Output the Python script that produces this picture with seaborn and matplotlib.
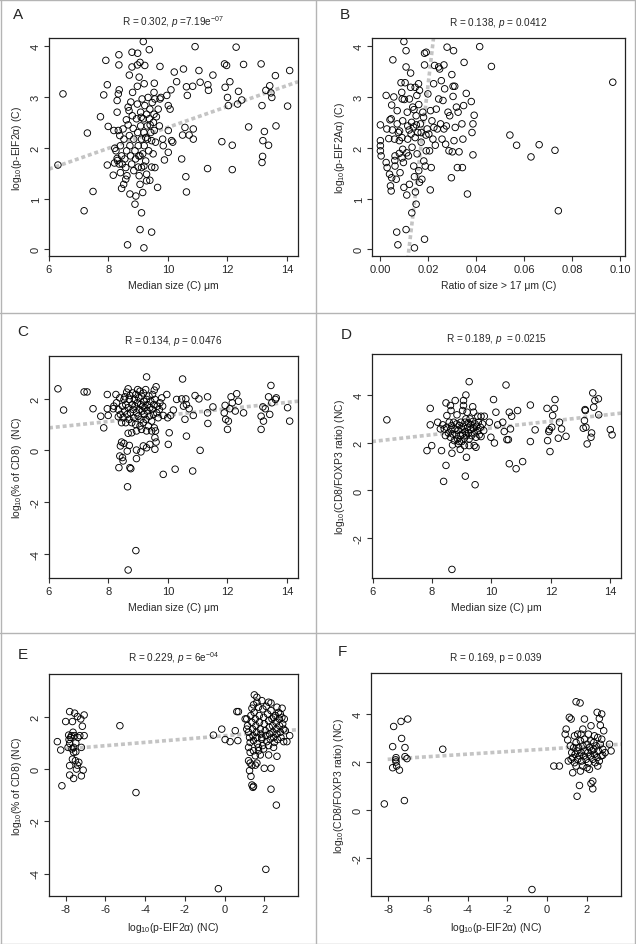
import numpy as np
import matplotlib
matplotlib.use('Agg')
import matplotlib.pyplot as plt
from matplotlib.lines import Line2D
import seaborn as sns

# ---- data (x, y) ----
A_pts = [(6.30,1.66),(6.47,3.06),(7.18,0.76),(7.29,2.29),(7.48,1.14),(7.73,2.61),(7.84,3.04),(7.91,3.72),(7.96,3.24),(7.96,1.66),
         (7.99,2.42),(8.16,1.46),(8.29,2.93),(8.29,2.70),(8.33,3.06),(8.35,3.83),(8.35,3.63),(8.36,3.14),(8.44,1.20),(8.58,1.38),
         (8.64,0.09),(8.70,3.43),(8.72,1.09),(8.79,3.88),(8.79,3.59),(8.89,0.89),(8.92,1.05),(8.98,3.86),(8.97,3.63),(9.06,3.68),
         (9.11,0.72),(9.06,0.39),(9.19,0.03),(9.17,4.09),(9.22,3.62),(9.37,3.93),(9.45,0.34),(9.39,1.36),(9.54,3.27),(9.56,1.61),
         (9.65,1.22),(9.73,3.60),(9.76,2.99),(9.82,2.17),(9.84,2.04),(9.88,1.76),(10.01,1.91),(10.07,2.76),(10.10,3.14),(10.16,2.11),
         (10.21,3.49),(10.29,3.30),(10.46,1.78),(10.49,2.25),(10.52,3.55),(10.57,2.40),(10.60,1.43),(10.62,1.13),(10.62,3.20),(10.65,3.03),
         (10.71,2.25),(10.83,3.21),(10.85,2.37),(10.85,2.17),(10.91,3.99),(11.04,3.52),(11.08,3.29),(11.33,1.59),(11.34,3.24),(11.36,3.13),
         (11.51,3.43),(11.81,2.12),(11.90,3.65),(11.92,3.19),(11.97,3.62),(12.00,2.99),(12.03,2.83),(12.08,3.30),(12.16,2.05),(12.16,1.57),
         (12.29,3.98),(12.34,2.86),(12.37,3.11),(12.48,2.94),(12.54,3.64),(12.71,2.41),(13.13,3.65),(13.16,2.83),(13.16,1.71),(13.18,1.83),
         (13.19,2.14),(13.24,2.32),(13.29,3.13),(13.38,2.05),(13.42,3.22),(13.46,3.08),(13.49,2.99),(13.61,3.42),(13.63,2.43),(14.02,2.82),
         (14.09,3.52),
         (8.18,2.34),(8.21,1.99),(8.25,1.94),(8.29,1.79),(8.33,2.34),(8.38,2.24),(8.40,2.04),(8.44,1.84),(8.46,1.68),(8.49,2.37),
         (8.52,2.17),(8.55,1.78),(8.58,1.61),(8.61,1.94),(8.66,2.80),(8.69,2.73),(8.66,2.45),(8.70,2.24),(8.72,2.04),(8.74,1.84),
         (8.78,1.68),(8.80,2.63),(8.81,3.09),(8.83,2.38),(8.85,2.17),(8.89,1.94),(8.91,1.78),(8.94,2.57),(8.97,2.86),(8.98,2.30),
         (9.00,2.04),(9.02,1.84),(9.03,1.45),(9.06,1.28),(9.08,2.70),(9.08,2.43),(9.11,2.17),(9.11,1.61),(9.13,2.96),(9.15,1.88),
         (9.17,2.57),(9.19,2.30),(9.20,2.04),(9.22,2.83),(9.25,1.74),(9.28,2.66),(9.28,1.35),(9.30,2.43),(9.31,2.17),(9.33,2.99),
         (9.35,1.94),(9.37,2.57),(9.39,2.76),(9.42,2.30),(9.45,2.14),(9.47,2.89),(9.51,2.50),(9.53,2.66),(9.54,2.34),(9.56,2.96),
         (9.58,2.11),(9.61,2.61),(9.67,2.76),(9.71,2.43),(9.73,2.96),(8.97,3.21),(9.20,3.26),(9.03,3.39),(8.36,1.68),(8.40,1.51),
         (8.51,1.28),(9.19,1.64),(9.06,1.84),(9.28,1.48),(9.96,3.03),(10.01,2.83),(10.01,2.34),(10.12,2.14),(9.53,3.09),(9.15,1.12),
         (8.62,1.45),(8.85,1.55),(9.00,1.62),(9.45,1.62),(9.50,1.88),(9.40,2.45),(8.60,2.55),(8.75,2.90),(9.10,2.60),(9.25,2.20),
         (8.20,1.70),(8.30,1.75)]

B_pts = [(0.0000,2.45),(0.0000,2.14),(0.0000,2.04),(0.0000,1.94),(0.0003,1.84),(0.0024,3.03),(0.0027,2.37),(0.0024,1.71),(0.0028,1.61),
         (0.0035,2.18),(0.0038,1.48),(0.0042,1.25),(0.0045,1.15),(0.0047,1.41),(0.0047,2.84),(0.0045,2.57),(0.0052,3.73),(0.0056,3.00),
         (0.0059,2.17),(0.0061,1.84),(0.0061,1.64),(0.0066,1.38),(0.0068,0.34),(0.0073,0.09),(0.0070,2.73),(0.0070,2.47),(0.0075,2.30),
         (0.0079,2.14),(0.0079,1.89),(0.0082,1.51),(0.0086,3.28),(0.0089,3.09),(0.0091,2.96),(0.0093,2.53),(0.0093,1.97),(0.0096,1.71),
         (0.0098,1.22),(0.0098,4.09),(0.0103,3.28),(0.0107,3.91),(0.0107,3.59),(0.0107,0.39),(0.0110,1.07),(0.0112,2.70),(0.0114,2.43),
         (0.0114,2.17),(0.0117,1.84),(0.0121,2.96),(0.0121,1.28),(0.0126,3.47),(0.0126,3.19),(0.0128,2.27),(0.0131,0.72),(0.0132,2.01),
         (0.0135,2.80),(0.0138,2.41),(0.0139,1.64),(0.0142,0.03),(0.0142,1.43),(0.0145,3.19),(0.0145,2.20),(0.0146,1.13),(0.0149,0.89),
         (0.0149,2.63),(0.0152,3.03),(0.0153,1.88),(0.0156,2.30),(0.0159,3.26),(0.0160,1.55),(0.0163,1.32),(0.0163,3.13),(0.0167,2.47),
         (0.0170,2.11),(0.0173,1.38),(0.0177,2.70),(0.0181,1.74),(0.0184,3.63),(0.0184,0.20),(0.0184,3.86),(0.0191,3.88),(0.0187,1.64),
         (0.0191,1.94),(0.0195,2.37),(0.0198,3.06),(0.0202,2.27),(0.0205,1.94),(0.0208,1.17),(0.0209,2.73),(0.0212,1.61),(0.0215,2.53),
         (0.0219,2.17),(0.0222,3.26),(0.0223,2.40),(0.0226,3.62),(0.0229,2.05),(0.0233,2.76),(0.0237,2.37),(0.0243,2.96),(0.0243,3.59),
         (0.0247,3.55),(0.0251,2.47),(0.0254,3.32),(0.0257,2.17),(0.0261,2.93),(0.0265,3.63),(0.0265,2.37),(0.0268,3.16),(0.0272,2.07),
         (0.0275,2.43),(0.0278,3.98),(0.0282,2.70),(0.0286,1.94),(0.0289,2.63),(0.0296,1.41),(0.0298,3.44),(0.0300,1.92),(0.0303,3.01),
         (0.0303,3.21),(0.0305,3.91),(0.0307,2.14),(0.0310,3.21),(0.0312,2.40),(0.0317,2.80),(0.0321,1.61),(0.0324,2.70),(0.0328,1.92),
         (0.0340,2.47),(0.0342,1.61),(0.0344,2.17),(0.0347,2.83),(0.0349,3.68),(0.0358,3.07),(0.0363,1.09),(0.0379,2.91),(0.0382,2.30),
         (0.0386,1.86),(0.0386,2.47),(0.0391,2.64),(0.0414,3.99),(0.0463,3.60),(0.0540,2.25),(0.0568,2.05),(0.0628,1.82),(0.0662,2.06),
         (0.0728,1.95),(0.0742,0.76),(0.0969,3.29),
         (0.0050,2.35),(0.0080,2.33),(0.0090,2.20),(0.0120,2.35),(0.0130,2.50),(0.0150,2.45),(0.0170,2.30),(0.0060,1.75),(0.0090,1.80),
         (0.0110,1.90),(0.0040,2.55),(0.0100,2.95),(0.0140,2.75),(0.0160,2.85),(0.0180,2.60),(0.0190,2.25)]

C_pts = [(6.30,2.38),(6.49,1.56),(7.18,2.26),(7.28,2.26),(7.48,1.61),(7.74,1.32),(7.84,0.87),(7.96,2.16),(7.96,1.61),(7.99,1.35),
         (8.16,1.61),(8.18,1.71),(8.25,2.16),(8.33,1.30),(8.35,-0.67),(8.38,-0.22),(8.40,0.17),(8.44,0.32),(8.47,-0.28),(8.49,-0.41),
         (8.52,0.27),(8.55,2.07),(8.58,1.07),(8.64,-1.41),(8.66,2.38),(8.66,0.66),(8.63,-0.03),(8.70,0.19),(8.72,-0.67),(8.75,-0.71),
         (8.66,-4.63),(8.92,-3.88),(8.94,-0.32),(8.94,0.01),(9.09,-0.06),(9.17,0.17),(9.28,2.84),(9.28,0.10),(9.39,0.23),(9.54,2.33),
         (9.60,2.46),(9.56,0.04),(9.56,0.49),(9.60,0.32),(9.84,-0.93),(10.01,0.23),(10.04,0.68),(10.09,1.35),(10.18,1.56),(10.24,-0.73),
         (10.29,1.97),(10.46,1.99),(10.49,2.76),(10.52,1.71),(10.57,1.20),(10.60,1.99),(10.62,1.77),(10.62,0.55),(10.71,1.61),(10.83,-0.80),
         (10.85,1.35),(10.91,2.12),(11.04,1.99),(11.08,0.00),(11.33,2.07),(11.33,1.45),(11.34,1.04),(11.51,1.68),(11.89,1.45),(11.92,1.74),
         (11.94,1.20),(12.00,0.81),(12.03,1.13),(12.08,1.61),(12.12,2.07),(12.16,1.84),(12.26,1.52),(12.31,2.19),(12.37,1.90),(12.54,1.45),
         (13.13,1.32),(13.13,0.81),(13.19,1.68),(13.21,1.13),(13.27,1.61),(13.38,2.07),(13.42,1.39),(13.46,2.51),(13.49,1.84),(13.61,1.97),
         (13.64,2.03),(14.02,1.65),(14.09,1.13),
         (8.27,1.84),(8.33,1.58),(8.38,2.03),(8.40,1.39),(8.44,1.07),(8.47,1.71),(8.49,1.26),(8.52,1.97),(8.55,1.52),(8.58,1.77),
         (8.61,2.25),(8.63,1.39),(8.66,1.65),(8.69,1.20),(8.70,1.97),(8.72,2.12),(8.74,1.45),(8.78,1.07),(8.80,1.77),(8.81,2.22),
         (8.83,1.58),(8.85,1.26),(8.87,1.97),(8.89,1.71),(8.91,1.00),(8.92,2.16),(8.94,1.45),(8.97,1.84),(8.98,2.35),(9.00,1.32),
         (9.02,2.03),(9.03,1.58),(9.06,0.94),(9.06,2.29),(9.08,1.77),(9.09,1.20),(9.11,2.10),(9.13,1.52),(9.15,1.71),(9.17,1.07),
         (9.17,2.22),(9.19,1.90),(9.20,1.39),(9.22,1.65),(9.25,2.35),(9.26,1.20),(9.28,1.97),(9.30,1.52),(9.31,1.77),(9.34,0.94),
         (9.36,2.10),(9.37,1.32),(9.39,1.65),(9.42,1.90),(9.45,1.13),(9.47,1.58),(9.48,2.16),(9.51,1.39),(9.53,1.77),(9.54,0.87),
         (9.56,1.97),(9.58,0.75),(9.62,1.45),(9.64,1.71),(9.67,1.26),(9.71,1.58),(9.73,1.84),(9.79,2.03),(9.82,1.71),(9.84,1.35),
         (9.96,2.16),(9.99,1.26),(9.45,0.75),(9.28,0.75),(9.11,0.81),(8.94,0.75),(8.78,0.68)]

D_pts = [(6.48,2.96),(7.83,1.67),(7.94,3.44),(7.94,2.75),(7.99,1.88),(8.19,2.86),(8.28,2.58),(8.32,1.67),(8.39,0.38),(8.47,1.05),
         (8.47,3.67),(8.50,3.14),(8.62,3.56),(8.64,3.35),(8.67,1.56),(8.67,-3.31),(8.69,1.91),(8.78,3.77),(8.84,3.17),(8.88,1.95),
         (8.95,1.72),(9.03,3.35),(9.06,3.77),(9.06,3.56),(9.12,0.60),(9.14,4.00),(9.16,1.39),(9.18,3.28),(9.25,4.56),(9.37,3.51),
         (9.40,3.28),(9.45,0.24),(9.48,1.81),(9.54,3.11),(9.65,3.11),(9.76,3.11),(9.93,2.86),(9.98,2.23),(10.07,3.81),(10.10,1.99),
         (10.15,3.28),(10.21,2.75),(10.38,2.86),(10.43,2.47),(10.49,4.42),(10.52,2.13),(10.57,2.13),(10.60,3.28),(10.60,1.12),(10.64,2.58),
         (10.68,3.11),(10.83,0.91),(10.88,3.35),(11.05,1.21),(11.31,3.58),(11.31,2.05),(11.47,2.54),(11.87,3.44),(11.89,2.09),(11.93,2.47),
         (11.95,2.55),(11.97,1.63),(12.03,2.65),(12.06,3.14),(12.12,3.44),(12.14,3.81),(12.25,2.19),(12.29,2.86),(12.36,2.58),(12.51,2.27),
         (13.09,2.61),(13.13,2.93),(13.15,3.39),(13.16,3.35),(13.18,2.65),(13.22,1.95),(13.35,2.23),(13.37,2.41),(13.41,4.09),(13.44,3.49),
         (13.48,3.77),(13.60,3.84),(13.61,3.17),(14.00,2.55),(14.06,2.33),
         (8.36,2.75),(8.41,2.58),(8.45,2.30),(8.50,2.65),(8.55,2.41),(8.58,2.86),(8.62,2.23),(8.64,2.55),(8.66,2.72),(8.69,2.37),
         (8.73,2.86),(8.75,2.09),(8.77,2.58),(8.81,2.33),(8.83,2.79),(8.86,2.16),(8.88,2.51),(8.92,2.72),(8.95,2.30),(8.97,2.86),
         (9.00,2.05),(9.01,2.55),(9.03,2.37),(9.05,2.69),(9.09,2.19),(9.11,2.86),(9.12,2.47),(9.14,3.00),(9.16,2.30),(9.20,2.65),
         (9.22,2.83),(9.23,2.41),(9.25,2.16),(9.28,3.00),(9.29,2.55),(9.31,2.75),(9.33,2.30),(9.37,2.89),(9.39,2.61),(9.42,2.41),
         (9.45,2.79),(9.48,2.23),(9.50,2.69),(9.54,2.51),(9.56,2.86),(9.59,2.33),(9.63,2.65),(9.65,2.26),(9.70,2.79),(9.74,2.51),
         (9.42,1.88),(9.25,1.88),(9.09,1.88),(8.92,2.05)]

E_pts = [(-8.42,1.05),(-8.25,0.73),(-8.19,-0.64),(-8.00,1.82),(-7.80,2.20),(-7.85,1.30),(-7.83,1.13),(-7.80,0.98),(-7.80,0.13),
         (-7.80,-0.23),(-7.71,1.28),(-7.66,1.82),(-7.63,1.41),(-7.60,-0.36),(-7.60,0.83),(-7.55,2.14),(-7.55,1.28),(-7.51,0.32),
         (-7.49,0.66),(-7.46,0.00),(-7.41,2.01),(-7.41,0.15),(-7.38,1.21),(-7.34,0.26),(-7.29,1.28),(-7.24,1.92),(-7.21,-0.26),
         (-7.21,0.83),(-7.16,1.64),(-7.12,-0.04),(-7.07,1.28),(-7.07,2.07),(-7.68,0.77),(-7.88,0.83),(-7.49,1.00),(-7.75,1.21),
         (-7.60,0.64),(-7.66,0.38),
         (-5.27,1.66),(-4.46,-0.90),(-0.56,1.30),(-0.31,-4.58),(-0.14,1.53),
         (0.03,1.13),(0.28,1.05),(0.54,1.47),(0.62,2.20),(0.70,2.20),(0.67,1.09),(1.04,1.92),(1.12,1.53),(1.21,0.83),(1.21,0.32),
         (1.26,-0.06),(1.33,-0.28),(1.38,-0.61),(1.43,-0.70),(1.46,-0.66),(1.29,0.23),(1.38,0.15),(1.50,2.84),(1.63,2.75),(1.63,0.23),
         (1.55,0.15),(2.00,0.03),(2.08,-3.84),(2.22,0.54),(2.34,0.03),(2.34,-0.77),(2.61,-1.38),(2.64,0.49),(1.71,0.83),(1.80,0.54),
         (1.88,1.21),(2.98,1.05),(3.14,1.05),(3.28,1.28),(2.90,2.33),(2.22,2.56),(2.47,1.98),(2.81,2.11),(3.06,1.47),
         (1.12,1.92),(1.16,1.66),(1.21,1.41),(1.26,1.21),(1.29,1.02),(1.33,2.05),(1.38,1.79),(1.41,1.53),(1.43,1.28),(1.46,1.09),
         (1.49,2.17),(1.55,1.92),(1.58,1.66),(1.60,1.41),(1.63,1.21),(1.66,0.96),(1.71,2.37),(1.75,2.05),(1.76,1.79),(1.80,1.53),
         (1.83,1.34),(1.88,1.15),(1.92,0.90),(1.93,2.30),(1.97,1.98),(2.00,1.73),(2.05,1.47),(2.08,1.28),(2.13,1.05),(2.17,2.11),
         (2.22,1.85),(2.25,1.60),(2.27,1.34),(2.30,1.15),(2.34,2.24),(2.39,1.92),(2.42,1.66),(2.44,1.41),(2.47,1.21),(2.51,1.02),
         (2.56,2.05),(2.59,1.79),(2.61,1.53),(2.64,1.34),(2.67,1.13),(2.72,2.17),(2.76,1.92),(2.77,1.66),(2.81,1.41),(2.84,1.21),
         (2.89,1.98),(2.93,1.73),(2.98,1.53),(3.01,1.92),(1.38,2.33),(1.46,2.46),(1.63,2.56),(1.88,2.62),(2.10,2.40),(2.34,2.53),
         (2.64,2.37),(1.71,0.70),(1.97,0.77),(2.22,0.90),(2.47,0.83),(1.46,0.70),(1.29,0.64),(1.55,0.51)]

F_pts = [(-8.19,0.24),(-7.77,1.75),(-7.77,2.63),(-7.72,3.47),(-7.60,2.17),(-7.60,1.99),(-7.57,1.82),(-7.43,1.65),(-7.35,3.68),
         (-7.32,2.97),(-7.18,0.38),(-7.15,2.59),(-7.15,2.21),(-7.05,2.13),(-7.01,3.78),(-7.62,2.08),(-5.25,2.52),(-0.76,-3.33),
         (0.34,1.82),(0.62,1.82),(0.96,3.36),(0.91,3.15),(1.04,2.91),(1.07,2.03),(1.12,3.85),(1.21,3.78),(1.29,1.54),(1.46,4.50),
         (1.66,4.45),(1.51,0.56),(1.63,1.01),(1.68,1.61),(1.88,3.78),(2.01,1.75),(2.21,1.09),(2.30,0.87),(2.30,1.19),(2.35,2.52),
         (2.52,4.06),(2.75,3.99),(2.85,3.29),(2.63,3.80),(2.92,2.38),(2.80,2.27),(3.14,2.73),(3.22,2.45),(2.68,3.52),(2.21,3.50),
         (1.80,3.36),(1.54,3.15),
         (1.17,2.66),(1.24,2.38),(1.29,2.17),(1.34,2.59),(1.38,1.96),(1.41,2.31),(1.46,2.80),(1.51,2.45),(1.54,2.10),(1.58,2.59),
         (1.63,2.24),(1.68,2.87),(1.71,2.38),(1.74,2.03),(1.80,2.66),(1.85,2.24),(1.88,2.94),(1.91,2.45),(1.96,2.10),(2.01,2.73),
         (2.05,2.38),(2.08,1.96),(2.13,2.59),(2.18,2.24),(2.21,2.87),(2.25,2.45),(2.30,2.10),(2.35,2.80),(2.38,2.31),(2.42,1.96),
         (2.47,2.66),(2.52,2.17),(2.55,3.01),(2.58,2.45),(2.63,2.03),(2.68,2.73),(2.72,2.24),(2.75,2.94),(2.80,2.52),(1.21,2.10),
         (1.46,1.82),(1.80,1.82),(2.13,1.68),(2.55,1.82),(1.38,3.08),(1.71,3.15),(2.08,3.15),(2.38,3.08)]

# fitted lines (end points)
A_fit = ([6.0, 14.37], [1.58, 3.30])
B_fit = ([0.0114, 0.0225], [-0.2, 4.3])
C_fit = ([6.0, 14.37], [0.87, 1.90])
D_fit = ([5.98, 14.36], [2.05, 3.24])
E_fit = ([-7.97, 3.70], [0.77, 1.51])
F_fit = ([-8.02, 3.72], [2.10, 2.73])

titles = [r'R = 0.302, $p$ =7.19e$^{-07}$', r'R = 0.138, $p$ = 0.0412', r'R = 0.134, $p$ = 0.0476',
          r'R = 0.189, $p$  = 0.0215', r'R = 0.229, $p$ = 6e$^{-04}$', 'R = 0.169, p = 0.039']
xlabels = ['Median size (C) μm', 'Ratio of size > 17 μm (C)', 'Median size (C) μm',
           'Median size (C) μm', r'log$_{10}$(p-EIF2α) (NC)', r'log$_{10}$(p-EIF2α) (NC)']
ylabels = [r'log$_{10}$(p-EIF2α) (C)', r'log$_{10}$(p-EIF2Aα) (C)', r'log$_{10}$(% of CD8)  (NC)',
           r'log$_{10}$(CD8/FOXP3 ratio) (NC)', r'log$_{10}$(% of CD8) (NC)', r'log$_{10}$(CD8/FOXP3 ratio) (NC)']
letters = ['A', 'B', 'C', 'D', 'E', 'F']
xticks = [[6, 8, 10, 12, 14], [0, 0.02, 0.04, 0.06, 0.08, 0.10], [6, 8, 10, 12, 14],
          [6, 8, 10, 12, 14], [-8, -6, -4, -2, 0, 2], [-8, -6, -4, -2, 0, 2]]
yticks = [[0, 1, 2, 3, 4], [0, 1, 2, 3, 4], [-4, -2, 0, 2], [-2, 0, 2, 4], [-4, -2, 0, 2], [-2, 0, 2, 4]]

sns.set_style('ticks')
plt.rcParams['font.family'] = ['Liberation Sans', 'DejaVu Sans']
plt.rcParams['mathtext.fontset'] = 'custom'
plt.rcParams['mathtext.rm'] = 'Liberation Sans'
plt.rcParams['mathtext.it'] = 'Liberation Sans:italic'
plt.rcParams['axes.unicode_minus'] = False

W, H = 636, 945
fig = plt.figure(figsize=(W / 100, H / 100), dpi=100)
fig.patch.set_facecolor('white')

# axes boxes in pixels: left, top, right, bottom
boxes = [(49, 39, 298, 257), (372, 39, 625, 257), (49, 357, 298, 579),
         (372, 355, 621, 579), (49, 675, 298, 897), (371, 674, 621, 897)]
lims = [((6.0, 14.37), (-0.13, 4.16)), ((-0.0035, 0.102), (-0.13, 4.16)), ((6.0, 14.37), (-4.94, 3.65)),
        ((5.98, 14.36), (-3.67, 5.72)), ((-8.84, 3.70), (-4.86, 3.64)), ((-8.86, 3.72), (-3.60, 5.70))]
letter_pos = [(13, 15), (340, 15), (17, 332), (341, 335), (18, 655), (338, 652)]

panels = [(A_pts, A_fit), (B_pts, B_fit), (C_pts, C_fit), (D_pts, D_fit), (E_pts, E_fit), (F_pts, F_fit)]

for i, (pts, fit) in enumerate(panels):
    l, t, r, b = boxes[i]
    ax = fig.add_axes([l / W, 1 - b / H, (r - l) / W, (b - t) / H])
    xy = np.array(pts)
    sns.scatterplot(x=xy[:, 0], y=xy[:, 1], ax=ax, s=22, marker='o',
                    facecolor='none', edgecolor='black', linewidth=0.65, zorder=3)
    ax.plot(fit[0], fit[1], color='#c4c4c4', lw=2.6, linestyle=(0, (1.1, 0.8)), zorder=2)
    ax.set_xlim(*lims[i][0])
    ax.set_ylim(*lims[i][1])
    ax.set_xticks(xticks[i])
    ax.set_yticks(yticks[i])
    if i == 1:
        ax.set_xticklabels(['%.2f' % v for v in xticks[i]])
    ax.tick_params(axis='both', length=3.5, width=0.8, pad=2.5, labelsize=8, color='#333333')
    for lab in ax.get_yticklabels():
        lab.set_rotation(90)
        lab.set_va('center')
    for sp in ax.spines.values():
        sp.set_linewidth(0.9)
        sp.set_color('#222222')
    ax.set_xlabel(xlabels[i], fontsize=7.5, labelpad=4)
    ax.set_ylabel(ylabels[i], fontsize=7.5, labelpad=5)
    ax.set_title(titles[i], fontsize=7.2, pad=9)
    fig.text(letter_pos[i][0] / W, 1 - letter_pos[i][1] / H, letters[i], fontsize=11,
             ha='left', va='center')

# panel frames
frame = dict(color='#b4b4b4', lw=1.0)
for xp in [0.5, 316, 634.5]:
    fig.add_artist(Line2D([xp / W, xp / W], [0, 1], transform=fig.transFigure, **frame))
for yp in [0.5, 314, 634, 944.5]:
    fig.add_artist(Line2D([0, 1], [1 - yp / H, 1 - yp / H], transform=fig.transFigure, **frame))

fig.savefig('out.png', dpi=100)
